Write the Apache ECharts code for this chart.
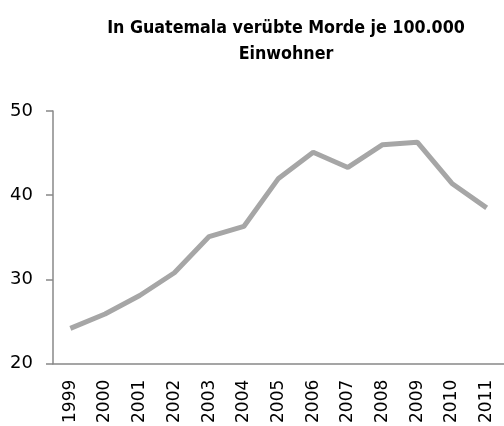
<!DOCTYPE html>
<html>
<head>
<meta charset="utf-8">
<script src="https://cdn.jsdelivr.net/npm/echarts@6/dist/echarts.min.js"></script>
<style>
  html, body { margin: 0; padding: 0; background: #fff; }
  #chart { width: 504px; height: 426px; }
</style>
</head>
<body>
<div id="chart"></div>
<script>
// Morde je 100.000 Einwohner, Guatemala
var years = ['1999', '2000', '2001', '2002', '2003', '2004', '2005', '2006', '2007', '2008', '2009', '2010', '2011'];
var murderRate = [24.2, 25.9, 28.1, 30.8, 35.1, 36.3, 42.0, 45.1, 43.3, 46.0, 46.3, 41.4, 38.5];
var yTicks = [20, 30, 40, 50];

var chart = echarts.init(document.getElementById('chart'));

var option = {
  animation: false,
  title: {
    text: 'In Guatemala verübte Morde je 100.000\nEinwohner',
    left: 281,
    top: 10,
    textAlign: 'center',
    textStyle: {
      fontFamily: 'DejaVu Sans Condensed',
      fontWeight: 'bold',
      fontSize: 17.7,
      lineHeight: 26,
      color: '#000'
    }
  },
  grid: {
    left: 53,
    right: -3,
    top: 111,
    bottom: 60
  },
  xAxis: {
    type: 'category',
    data: years,
    boundaryGap: true,
    axisLine: { lineStyle: { color: '#888', width: 1.5 } },
    axisTick: { show: false },
    axisLabel: {
      rotate: 90,
      margin: 16,
      interval: 0,
      fontFamily: 'DejaVu Sans',
      fontSize: 17,
      color: '#000'
    }
  },
  yAxis: {
    type: 'value',
    min: yTicks[0],
    max: yTicks[yTicks.length - 1],
    interval: 10,
    axisLine: { show: true, lineStyle: { color: '#888', width: 1.5 } },
    axisTick: { show: true, length: 7, lineStyle: { color: '#888', width: 1.5 } },
    splitLine: { show: false },
    axisLabel: {
      margin: 20,
      fontFamily: 'DejaVu Sans',
      fontSize: 18,
      color: '#000'
    }
  },
  series: [
    {
      name: 'Morde je 100.000 Einwohner',
      type: 'line',
      data: murderRate,
      showSymbol: false,
      symbol: 'none',
      lineStyle: { color: '#a6a6a6', width: 5 },
      itemStyle: { color: '#a6a6a6' }
    }
  ]
};

chart.setOption(option);
</script>
</body>
</html>
